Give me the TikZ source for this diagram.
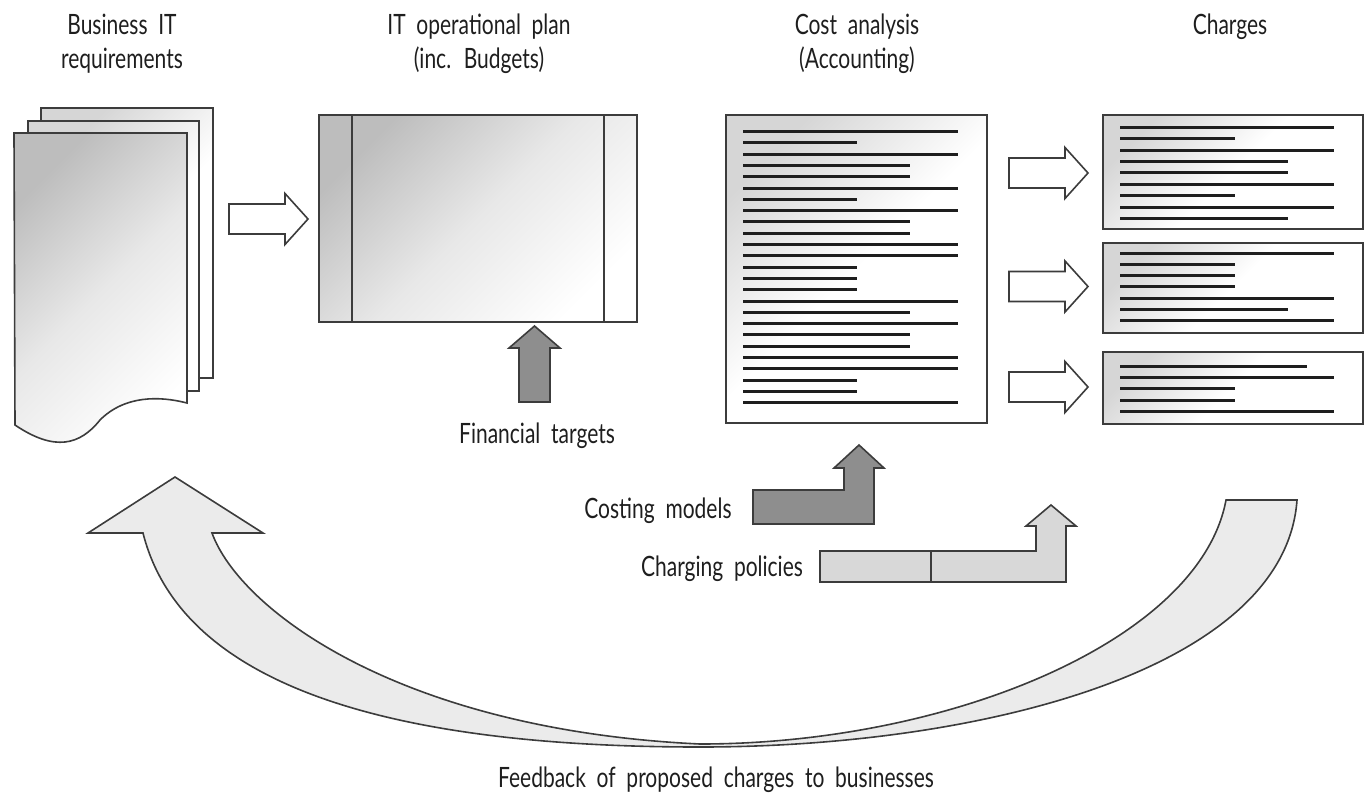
\documentclass[tikz,border=0pt]{standalone}
\usepackage{fontspec}
\setmainfont{Lato}[FakeStretch=0.75, WordSpace=2.0]
\definecolor{edge}{HTML}{3C3C3C}
\definecolor{ink}{HTML}{1E1E1E}
\definecolor{darkfill}{HTML}{8E8E8E}
\definecolor{lightfill}{HTML}{D8D8D8}
\definecolor{pale}{HTML}{EBEBEB}
\definecolor{shadeA}{HTML}{BDBDBD}
\definecolor{shadeB}{HTML}{D6D6D6}
\tikzset{
  outline/.style={draw=edge, line width=1.6pt, line join=miter},
  txtline/.style={draw=ink, line width=3pt},
  lbl/.style={font=\fontsize{28}{34}\selectfont, text=ink, inner sep=0pt, align=center},
  strong shade/.style={shade, top color=shadeA, bottom color=white, middle color=shadeA!35!white, shading angle=45},
  soft shade/.style={shade, top color=shadeB, bottom color=white, middle color=white, shading angle=45},
}
% hollow block arrow pointing right: start x, head x, tip x, centre y
\newcommand\hollowarrow[4]{%
  \draw[outline, fill=white] (#1,#4-15) -- (#2,#4-15) -- (#2,#4-25.5) -- (#3,#4)
    -- (#2,#4+25.5) -- (#2,#4+15) -- (#1,#4+15) -- cycle;}
\begin{document}
\begin{tikzpicture}[x=1pt, y=-1pt]
\useasboundingbox (0,0) rectangle (1365,796);

% ---- titles (base = baseline of the last line)
\node[lbl, anchor=base] (tReq) at (122,68) {Business IT\\requirements};
\node[lbl, anchor=base] (tPlan) at (479,68) {IT operational plan\\(inc. Budgets)};
\node[lbl, anchor=base] (tCost) at (857,68) {Cost analysis\\(Accounting)};
\node[lbl, anchor=base] (tChg) at (1230,34) {Charges};

% ---- stack of requirement documents
\path[outline, soft shade] (41,108) rectangle (213,378);
\path[outline, soft shade] (28,121) rectangle (199,391);
\path[outline, strong shade] (14,133) -- (187,133) -- (187,403)
  .. controls (160,396) and (125,395) .. (100,420)
  .. controls (80,445) and (55,452) .. (15,425) -- cycle;

\hollowarrow{229}{285}{308}{219}

% ---- operational plan
\path[outline, strong shade] (319,115) rectangle (637,322);
\draw[outline] (352,115) -- (352,322);
\draw[outline] (604,115) -- (604,322);

% financial targets
\draw[outline, fill=darkfill] (519,402) -- (519,348) -- (509,348) -- (534.5,326)
  -- (560,348) -- (550,348) -- (550,402) -- cycle;
\node[lbl, anchor=base] (tFin) at (537,443) {Financial targets};

% ---- cost analysis sheet
\path[outline, soft shade] (726,115) rectangle (987,423);
\foreach \k/\e in {0/958,1/857,2/958,3/910,4/910,5/958,6/857,7/958,8/910,9/910,
                   10/958,11/958,12/857,13/857,14/857,15/958,16/910,17/958,18/910,
                   19/910,20/958,21/958,22/857,23/857,24/958}
  \draw[txtline] (743,131.5+11.3*\k) -- (\e,131.5+11.3*\k);

% ---- charge sheets
\path[outline, soft shade] (1103,115) rectangle (1363,229);
\foreach \k/\e in {0/1334,1/1235,2/1334,3/1288,4/1288,5/1334,6/1235,7/1334,8/1288}
  \draw[txtline] (1120,127.3+11.4*\k) -- (\e,127.3+11.4*\k);
\path[outline, soft shade] (1103,243) rectangle (1363,333);
\foreach \k/\e in {0/1334,1/1235,2/1235,3/1235,4/1334,5/1288,6/1334}
  \draw[txtline] (1120,253.3+11.2*\k) -- (\e,253.3+11.2*\k);
\path[outline, soft shade] (1103,352) rectangle (1363,424);
\foreach \k/\e in {0/1307,1/1334,2/1235,3/1235,4/1334}
  \draw[txtline] (1120,366+11.4*\k) -- (\e,366+11.4*\k);

\hollowarrow{1009}{1065}{1088}{173}
\hollowarrow{1009}{1065}{1088}{286.5}
\hollowarrow{1009}{1065}{1088}{387}

% ---- costing models and charging policies
\draw[outline, fill=darkfill] (753,524) -- (753,490) -- (844,490) -- (844,468)
  -- (834,468) -- (859,445) -- (884,468) -- (874,468) -- (874,524) -- cycle;
\node[lbl, anchor=base] (tModels) at (658,518) {Costing models};

\draw[outline, fill=lightfill] (820,582) -- (820,551) -- (1036,551) -- (1036,526)
  -- (1026,526) -- (1051,505) -- (1076,526) -- (1066,526) -- (1066,582) -- cycle;
\draw[outline] (931,551) -- (931,582);
\node[lbl, anchor=base] (tPolicies) at (722,576) {Charging policies};

% ---- feedback arc
\draw[outline, fill=pale] (143,533) -- (88,533) -- (175,477) -- (263,533) -- (212,533)
  .. controls (240,610) and (400,730) .. (700,744)
  .. controls (950,744) and (1200,640) .. (1226,500)
  -- (1297,500)
  .. controls (1285,670) and (980,747) .. (700,747)
  .. controls (330,747) and (175,660) .. (143,533) -- cycle;
\node[lbl, anchor=base] (tFeed) at (716,787) {Feedback of proposed charges to businesses};
\end{tikzpicture}
\end{document}
